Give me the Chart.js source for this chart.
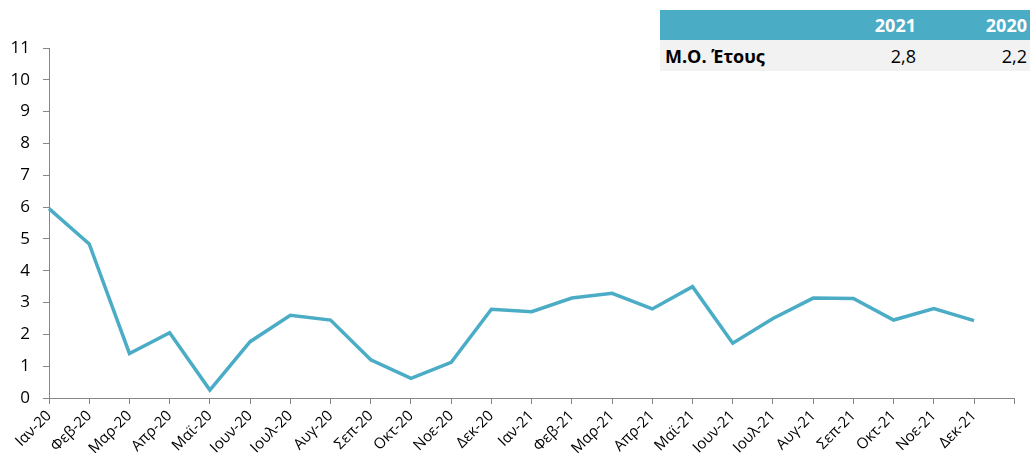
<!DOCTYPE html>
<html lang="el">
<head>
  <meta charset="UTF-8">
  <title>Μ.Ο. Έτους</title>
  <script src="https://cdn.jsdelivr.net/npm/chart.js"></script>
</head>
<body style="margin:0; background:#fff; font-family:'Open Sans', sans-serif;">

  <div style="position:relative; width:1030px; height:468px;">
    <canvas id="lineChart" width="1030" height="468"></canvas>

    <!-- summary table -->
    <table style="position:absolute; left:660px; top:10px; width:370px; border-collapse:collapse; font-family:'Open Sans', sans-serif; font-size:18px;">
      <tr style="background:#4BACC6; color:#fff; font-weight:bold; height:30px;">
        <td id="hLabel" style="padding:0 6px;"></td>
        <td id="h2021" style="text-align:right; padding:0 8px; width:100px;"></td>
        <td id="h2020" style="text-align:right; padding:0 3px; width:100px;"></td>
      </tr>
      <tr style="background:#F2F2F2; color:#000; height:31px;">
        <td id="rLabel" style="padding:0 5px; font-weight:bold;"></td>
        <td id="v2021" style="text-align:right; padding:0 8px;"></td>
        <td id="v2020" style="text-align:right; padding:0 3px;"></td>
      </tr>
    </table>
  </div>

  <script>
    // data
    const months = ['Ιαν-20','Φεβ-20','Μαρ-20','Απρ-20','Μαϊ-20','Ιουν-20','Ιουλ-20','Αυγ-20','Σεπ-20','Οκτ-20','Νοε-20','Δεκ-20',
                    'Ιαν-21','Φεβ-21','Μαρ-21','Απρ-21','Μαϊ-21','Ιουν-21','Ιουλ-21','Αυγ-21','Σεπ-21','Οκτ-21','Νοε-21','Δεκ-21'];
    const values = [5.95, 4.84, 1.40, 2.05, 0.25, 1.77, 2.60, 2.45, 1.20, 0.62, 1.12, 2.79,
                    2.71, 3.14, 3.29, 2.80, 3.50, 1.72, 2.50, 3.14, 3.13, 2.45, 2.81, 2.43];
    const tableYears = ['2021', '2020'];
    const tableAverages = ['2,8', '2,2'];
    const tableRowLabel = 'Μ.Ο. Έτους';

    document.getElementById('h2021').innerText = tableYears[0];
    document.getElementById('h2020').innerText = tableYears[1];
    document.getElementById('rLabel').innerText = tableRowLabel;
    document.getElementById('v2021').innerText = tableAverages[0];
    document.getElementById('v2020').innerText = tableAverages[1];

    // one empty slot at the end, the axis runs one category past Δεκ-21
    const labels = months.concat(['']);
    const data = values.concat([null]);

    const ctx = document.getElementById('lineChart').getContext('2d');
    new Chart(ctx, {
      type: 'line',
      data: {
        labels: labels,
        datasets: [{
          data: data,
          borderColor: '#4BACC6',
          borderWidth: 3.5,
          pointRadius: 0,
          tension: 0,
          fill: false
        }]
      },
      options: {
        responsive: false,
        animation: false,
        layout: { padding: { top: 48, right: 15, left: 0, bottom: 0 } },
        plugins: {
          legend: { display: false },
          tooltip: { enabled: false }
        },
        scales: {
          x: {
            offset: false,
            afterFit: function (scale) { scale.height = 70; },
            grid: { drawOnChartArea: false, color: '#868686', tickLength: 6 },
            border: { color: '#868686' },
            ticks: {
              autoSkip: false,
              maxRotation: 45,
              minRotation: 45,
              color: '#000',
              font: { family: 'Open Sans', size: 15 }
            }
          },
          y: {
            min: 0,
            max: 11,
            afterFit: function (scale) { scale.width = 49; },
            grid: { drawOnChartArea: false, color: '#868686', tickLength: 6 },
            border: { color: '#868686' },
            ticks: {
              stepSize: 1,
              color: '#000',
              padding: 13,
              font: { family: 'Open Sans', size: 17 }
            }
          }
        }
      }
    });
  </script>

</body>
</html>
